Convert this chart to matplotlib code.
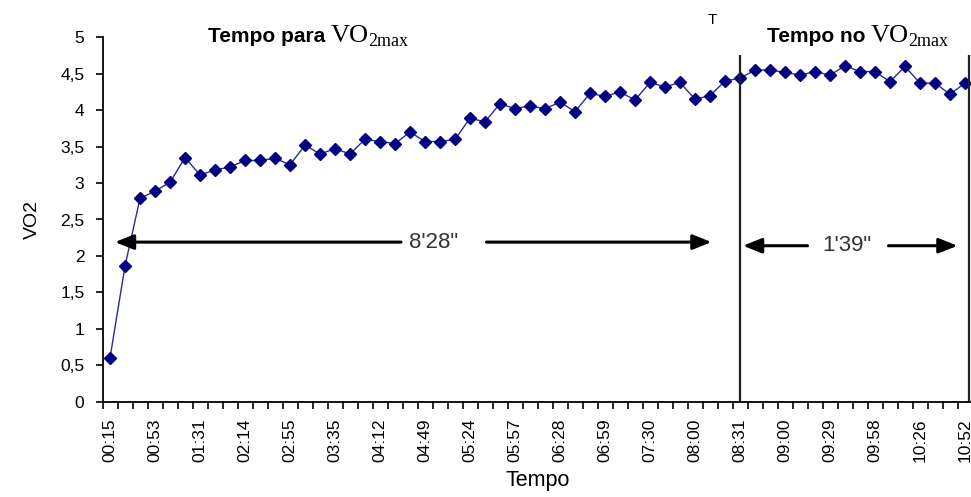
import matplotlib
matplotlib.use("Agg")
import matplotlib.pyplot as plt
from matplotlib.transforms import offset_copy

plt.rcParams['font.family'] = ['Liberation Sans', 'DejaVu Sans']

# VO2 readings, one per sample
vo2 = [0.60, 1.86, 2.79, 2.89, 3.01, 3.35, 3.11, 3.18, 3.22, 3.31,
       3.31, 3.34, 3.25, 3.52, 3.40, 3.47, 3.40, 3.60, 3.57, 3.54,
       3.70, 3.57, 3.57, 3.60, 3.89, 3.84, 4.09, 4.02, 4.06, 4.02,
       4.11, 3.98, 4.23, 4.19, 4.25, 4.14, 4.38, 4.32, 4.38, 4.15,
       4.20, 4.40, 4.44, 4.55, 4.55, 4.52, 4.48, 4.53, 4.48, 4.61,
       4.53, 4.53, 4.39, 4.60, 4.37, 4.37, 4.22, 4.37]

# only every third sample gets a label on the axis
tick_labels = ['00:15', '00:53', '01:31', '02:14', '02:55', '03:35', '04:12',
               '04:49', '05:24', '05:57', '06:28', '06:59', '07:30', '08:00',
               '08:31', '09:00', '09:29', '09:58', '10:26', '10:52']
tick_step = 3

y_ticks = [0, 0.5, 1, 1.5, 2, 2.5, 3, 3.5, 4, 4.5, 5]

# annotation positions (sample index, VO2 units)
vmax_start = 42
vmax_end = 57.27
line_top = 4.76
arrow1_y, arrow1_seg = 2.19, [(0.33, 19.4), (25.1, 40.1)]
arrow1_text = (21.6, "8'28\"")
arrow2_y, arrow2_seg = 2.14, [(42.2, 46.5), (51.9, 56.5)]
arrow2_text = (49.1, "1'39\"")

W, H = 971, 497
fig = plt.figure(figsize=(W / 100, H / 100), dpi=100)
ax = fig.add_axes([102.5 / W, (H - 401.7) / H, 870 / W, 364.4 / H])

x = list(range(len(vo2)))
ax.plot(x, vo2, color='#2a2a9a', lw=1.0, marker='D', markersize=6,
        markerfacecolor='#000080', markeredgecolor='#000080')

ax.set_xlim(-0.5, len(vo2) - 0.5)
ax.set_ylim(0, 5)

ax.set_yticks(y_ticks)
ax.set_yticklabels([('%g' % v).replace('.', ',') for v in y_ticks])
ax.set_xticks(x[::tick_step])
ax.set_xticklabels(tick_labels, rotation=90)
ax.set_xticks([i - 0.5 for i in range(len(vo2) + 1)], minor=True)
ax.tick_params(axis='x', which='major', length=0, pad=12, labelsize=12.5)
ax.tick_params(axis='x', which='minor', length=5, width=1.2, direction='out')
ax.tick_params(axis='y', length=5, width=1.2, direction='out', labelsize=12.5, pad=8)

for s in ['top', 'right']:
    ax.spines[s].set_visible(False)
for s in ['left', 'bottom']:
    ax.spines[s].set_linewidth(1.3)

ax.set_xlabel('Tempo', fontsize=15.5, labelpad=6)
ax.set_ylabel('VO2', fontsize=14, labelpad=14)

# vertical markers for the start and end of VO2max plateau
ax.vlines([vmax_start, vmax_end], 0, line_top, colors='#222222', lw=1.6, clip_on=False)

arrow_style = dict(arrowstyle='-|>,head_length=0.75,head_width=0.3', lw=2.2,
                   color='black', mutation_scale=15, shrinkA=0, shrinkB=0)
for y, segs, (tx, txt) in [(arrow1_y, arrow1_seg, arrow1_text),
                            (arrow2_y, arrow2_seg, arrow2_text)]:
    (l_tip, l_end), (r_start, r_tip) = segs
    ax.annotate('', xy=(l_tip, y), xytext=(l_end, y), arrowprops=arrow_style)
    ax.annotate('', xy=(r_tip, y), xytext=(r_start, y), arrowprops=arrow_style)
    ax.text(tx, y, txt, ha='center', va='center', fontsize=16, color='#333333')

# section titles: bold sans label, then serif VO with a 2max subscript
renderer = fig.canvas.get_renderer()
for left, label in [(208, 'Tempo para'), (767, 'Tempo no')]:
    t1 = fig.text(left / W, 1 - 42 / H, label, fontsize=15, fontweight='bold',
                  va='baseline')
    x1 = t1.get_window_extent(renderer).x1
    t2 = fig.text(0, 1 - 42 / H, 'VO', fontsize=19, family='Liberation Serif',
                  va='baseline', transform=offset_copy(fig.transFigure, fig=fig,
                                                       x=x1 + 5, units='dots'))
    x2 = t2.get_window_extent(renderer).x1
    fig.text(0, 1 - 46 / H, '2max', fontsize=13, family='Liberation Serif',
             va='baseline', transform=offset_copy(fig.transFigure, fig=fig,
                                                  x=x2, units='dots'))

fig.text(712 / W, 1 - 20 / H, 'T', fontsize=11, ha='center', va='center')

fig.savefig('out.png', dpi=100)
